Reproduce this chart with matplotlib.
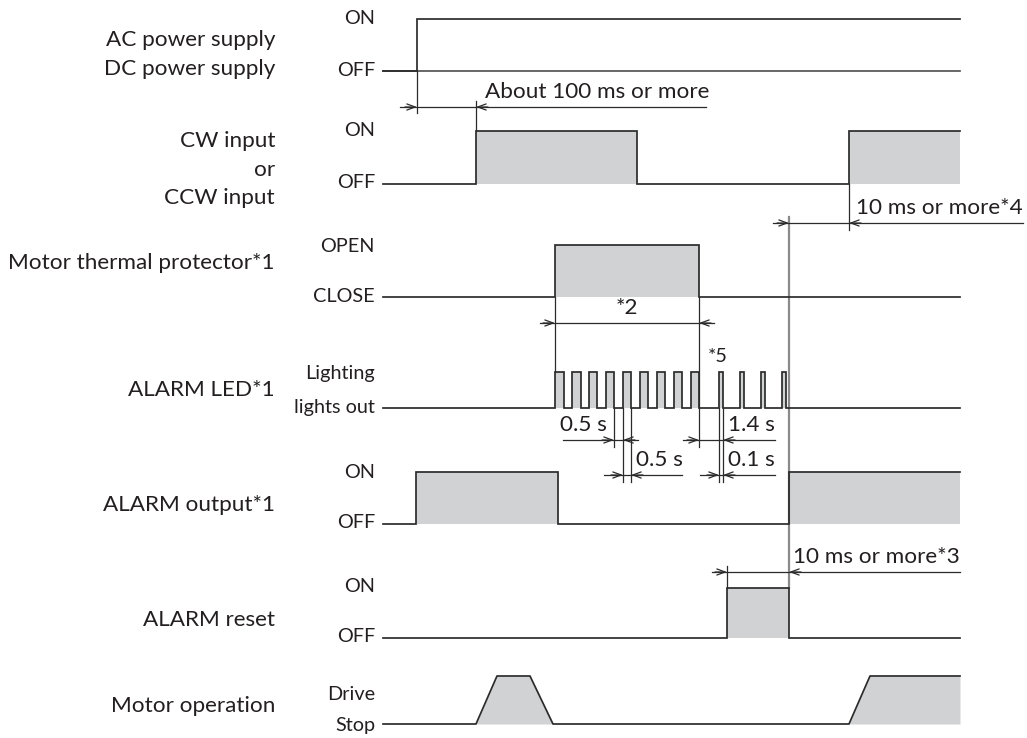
import matplotlib
matplotlib.use('Agg')
import matplotlib.pyplot as plt

plt.rcParams['font.family'] = ['Lato', 'DejaVu Sans']

# ---------------- data (transition times along the diagram's time axis) ----------------
row_names = [["AC power supply", "DC power supply"],
             ["CW input", "or", "CCW input"],
             ["Motor thermal protector*1"],
             ["ALARM LED*1"],
             ["ALARM output*1"],
             ["ALARM reset"],
             ["Motor operation"]]
level_hi = ["ON", "ON", "OPEN", "Lighting", "ON", "ON", "Drive"]
level_lo = ["OFF", "OFF", "CLOSE", "lights out", "OFF", "OFF", "Stop"]

power_edges = [417]
cw_edges = [476, 637, 849]
thermal_edges = [555, 699]
led_edges = [555, 564, 572, 581, 589, 597, 606, 614, 623, 631, 640, 648, 657, 665,
             674, 682, 691, 699, 719, 723, 740, 744, 761, 765, 782, 786]
alarm_out_edges = [416, 558, 789]
reset_edges = [727, 789]
motor_t = [476, 497, 530, 553, 849, 870]
motor_v = [0, 1, 1, 0, 0, 1]

t_start, t_end = 383, 960

# dimension annotations: (label, y, line_from, line_to, head_right_at, head_left_at, text_x, text_align)
dims = [("About 100 ms or more", 107, 400, 706, 417, 476, 485, "left"),
        ("*2", 323, 540, 714, 555, 699, 627, "center"),
        ("0.5 s", 440, 563, 638, 614, 623, 607, "right"),
        ("0.5 s", 475, 604, 682, 623, 631, 636, "left"),
        ("1.4 s", 440, 683, 775, 699, 723, 728, "left"),
        ("0.1 s", 475, 700, 775, 719, 723, 728, "left"),
        ("10 ms or more*4", 223, 773, 1023, 789, 849, 856, "left"),
        ("10 ms or more*3", 572, 712, 960, 727, 789, 793, "left")]

# extension lines: (x, y_from, y_to)
ext_lines = [(417, 71, 113), (476, 101, 131), (555, 297, 372), (699, 297, 447),
             (614, 408, 447), (623, 408, 482), (631, 408, 482),
             (719, 408, 482), (723, 408, 482), (849, 184, 230), (727, 566, 588)]
gray_line = (789, 217, 588)

# ---------------- layout ----------------
rows_y = [(19, 71), (131, 184), (245, 297), (372, 408), (472, 524), (588, 638), (676, 724)]
name_y = [[40, 69], [141, 170, 198], [263], [390], [505], [620], [706]]
lvl_text_y = [(18, 70), (130, 183), (246, 296), (373, 407), (472, 523), (587, 637), (694, 726)]

LC = '#2b2b2b'
FILL = '#d1d2d4'
LW = 1.25
TXT = '#231f20'
FS_NAME = 16.2
FS_LVL = 14.3

fig = plt.figure(figsize=(10.27, 7.38), dpi=100)
ax = fig.add_axes([0, 0, 1, 1])
ax.set_xlim(0, 1027)
ax.set_ylim(738, 0)
ax.axis('off')

# labels
for names, ys in zip(row_names, name_y):
    for n, y in zip(names, ys):
        ax.text(275, y, n, ha='right', va='center', fontsize=FS_NAME, color=TXT)
for hi, lo, (yh, yl) in zip(level_hi, level_lo, lvl_text_y):
    ax.text(375, yh, hi, ha='right', va='center', fontsize=FS_LVL, color=TXT)
    ax.text(375, yl, lo, ha='right', va='center', fontsize=FS_LVL, color=TXT)


def step(edges, lo, hi, fill=True, end=t_end):
    xs, ys = [t_start], [lo]
    level = lo
    highs = []
    for e in edges:
        nxt = hi if level == lo else lo
        xs += [e, e]
        ys += [level, nxt]
        if nxt == hi:
            highs.append([e, end])
        else:
            highs[-1][1] = e
        level = nxt
    xs.append(end)
    ys.append(level)
    if fill:
        for a, b in highs:
            ax.fill_between([a, b], [lo, lo], [hi, hi], color=FILL, lw=0, zorder=1)
    ax.plot(xs, ys, color=LC, lw=LW, zorder=3, solid_joinstyle='miter')


# power (no fill, OFF baseline continues)
hi, lo = rows_y[0][0], rows_y[0][1]
ax.plot([t_start, t_end], [lo, lo], color='#555555', lw=LW, zorder=2)
step(power_edges, lo, hi, fill=False)
step(cw_edges, rows_y[1][1], rows_y[1][0])
step(thermal_edges, rows_y[2][1], rows_y[2][0])
step(led_edges, rows_y[3][1], rows_y[3][0])
step(alarm_out_edges, rows_y[4][1], rows_y[4][0])
step(reset_edges, rows_y[5][1], rows_y[5][0])

# motor operation (trapezoids)
m_hi, m_lo = rows_y[6]
mt = [t_start] + motor_t + [t_end]
mv = [0] + motor_v + [1]
my = [m_lo - v * (m_lo - m_hi) for v in mv]
ax.fill_between(mt, my, [m_lo] * len(mt), color=FILL, lw=0, zorder=1)
ax.plot(mt, my, color=LC, lw=LW, zorder=3)

# extension lines
for x, y0, y1 in ext_lines:
    ax.plot([x, x], [y0, y1], color=LC, lw=0.9, zorder=3)
ax.plot([gray_line[0]] * 2, gray_line[1:], color='#8a8a8a', lw=1.6, zorder=2)

# dimension lines
for lab, y, a, b, hr, hl, tx, al in dims:
    ax.plot([a, b], [y, y], color=LC, lw=0.9, zorder=3)
    ap = dict(arrowstyle='->,head_length=0.6,head_width=0.22', lw=0.9, color=LC,
              shrinkA=0, shrinkB=0, mutation_scale=10)
    ax.annotate('', xy=(hr, y), xytext=(hr - 12, y), arrowprops=ap, zorder=4)
    ax.annotate('', xy=(hl, y), xytext=(hl + 12, y), arrowprops=ap, zorder=4)
    ax.text(tx, y - 15, lab, ha=al, va='center', fontsize=FS_NAME, color=TXT)

ax.text(718, 356, "*5", ha='center', va='center', fontsize=FS_LVL, color=TXT)

fig.savefig('out.png', dpi=100)
